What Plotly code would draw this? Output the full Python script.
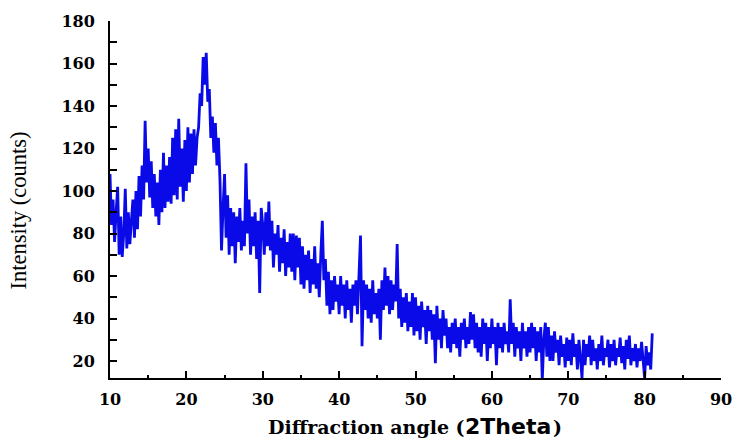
import numpy as np
import plotly.graph_objects as go

# 2-theta scan, 0.2 degree step from 10 to 81
two_theta = np.round(np.arange(10.0, 81.0001, 0.2), 1)

intensity = [
    108, 84, 96, 76, 90,      # 10
    102, 70, 88, 69, 80,      # 11
    101, 73, 90, 75, 86,      # 12
    96, 78, 100, 82, 107,     # 13
    88, 112, 96, 133, 104,    # 14
    120, 97, 114, 92, 108,    # 15
    88, 104, 84, 110, 90,     # 16
    118, 92, 112, 95, 116,    # 17
    94, 125, 98, 129, 96,     # 18
    134, 102, 120, 95, 124,   # 19
    100, 130, 104, 127, 108,  # 20
    129, 112, 125, 130, 146,  # 21
    140, 163, 150, 165, 142,  # 22
    148, 125, 135, 118, 132,  # 23
    112, 125, 105, 72, 92,    # 24
    108, 78, 98, 70, 92,      # 25
    74, 90, 66, 88, 76,       # 26
    92, 72, 86, 74, 113,      # 27
    80, 96, 70, 88, 74,       # 28
    90, 68, 86, 52, 92,       # 29
    84, 70, 90, 74, 95,       # 30
    72, 86, 64, 80, 70,       # 31
    84, 62, 78, 66, 82,       # 32
    60, 76, 64, 80, 62,       # 33
    80, 58, 79, 64, 78,       # 34
    56, 74, 54, 70, 58,       # 35
    72, 52, 68, 56, 74,       # 36
    54, 66, 50, 70, 86,       # 37
    58, 68, 46, 62, 42,       # 38
    58, 44, 60, 48, 56,       # 39
    42, 60, 46, 56, 40,       # 40
    58, 44, 54, 38, 56,       # 41
    46, 58, 42, 60, 79,       # 42
    27, 58, 44, 56, 40,       # 43
    54, 38, 58, 42, 52,       # 44
    40, 54, 30, 58, 44,       # 45
    64, 46, 60, 42, 58,       # 46
    44, 56, 48, 75, 40,       # 47
    54, 36, 50, 38, 52,       # 48
    34, 48, 36, 52, 32,       # 49
    50, 34, 46, 30, 48,       # 50
    36, 44, 28, 46, 34,       # 51
    44, 30, 42, 19, 46,       # 52
    30, 40, 26, 44, 32,       # 53
    40, 26, 36, 24, 38,       # 54
    28, 40, 26, 36, 22,       # 55
    38, 30, 40, 26, 36,       # 56
    28, 43, 30, 42, 26,       # 57
    38, 24, 36, 22, 40,       # 58
    28, 38, 20, 36, 26,       # 59
    40, 28, 36, 18, 38,       # 60
    26, 36, 24, 38, 28,       # 61
    34, 24, 49, 28, 38,       # 62
    22, 36, 26, 34, 20,       # 63
    38, 26, 34, 22, 36,       # 64
    24, 38, 26, 36, 20,       # 65
    34, 24, 36, 11, 30,       # 66
    38, 22, 36, 20, 32,       # 67
    20, 34, 24, 30, 18,       # 68
    32, 22, 28, 17, 31,       # 69
    20, 30, 18, 33, 22,       # 70
    28, 16, 30, 20, 12,       # 71
    30, 18, 28, 22, 32,       # 72
    18, 30, 20, 26, 16,       # 73
    28, 20, 32, 18, 26,       # 74
    22, 30, 17, 28, 20,       # 75
    30, 18, 26, 22, 31,       # 76
    19, 27, 16, 30, 21,       # 77
    32, 18, 26, 20, 28,       # 78
    17, 26, 20, 29, 18,       # 79
    12, 27, 18, 24, 16,       # 80
    33,                       # 81
]

x_ticks = [10, 20, 30, 40, 50, 60, 70, 80, 90]
y_ticks = [20, 40, 60, 80, 100, 120, 140, 160, 180]

n = min(len(two_theta), len(intensity))

fig = go.Figure()
fig.add_trace(go.Scatter(
    x=two_theta[:n], y=intensity[:n], mode="lines",
    line=dict(color="#0A0AE8", width=2.8),
    hoverinfo="skip",
))

tick_font = dict(family="DejaVu Serif", size=16, color="black", weight="bold")
serif_bold = dict(family="DejaVu Serif", size=19, color="black", weight="bold")
sans_bold = dict(family="DejaVu Sans", size=22, color="black", weight="bold")

fig.update_layout(
    width=744, height=440,
    margin=dict(l=110, r=15, t=21, b=62),
    plot_bgcolor="white", paper_bgcolor="white",
    showlegend=False,
    xaxis=dict(
        range=[10, 90], tickvals=x_ticks, ticktext=[str(v) for v in x_ticks],
        ticks="inside", ticklen=7, tickwidth=2, tickcolor="black",
        showline=True, linewidth=2, linecolor="black",
        showgrid=False, zeroline=False, tickfont=tick_font,
        ticklabelstandoff=6,
        minor=dict(ticks="inside", ticklen=3, tickwidth=2, tickcolor="black",
                   tickvals=[15, 25, 35, 45, 55, 65, 75, 85]),
    ),
    yaxis=dict(
        range=[12, 180], tickvals=y_ticks, ticktext=[str(v) for v in y_ticks],
        ticks="inside", ticklen=7, tickwidth=2, tickcolor="black",
        showline=True, linewidth=2, linecolor="black",
        showgrid=False, zeroline=False, tickfont=tick_font,
        ticklabelstandoff=10,
        minor=dict(ticks="inside", ticklen=7, tickwidth=2, tickcolor="black",
                   tickvals=[30, 50, 70, 90, 110, 130, 150, 170]),
    ),
    annotations=[
        dict(
            text="Diffraction angle (",
            xref="paper", yref="paper", x=0.5832, y=-0.137,
            xanchor="right", yanchor="middle", showarrow=False, borderpad=0,
            font=serif_bold,
        ),
        dict(
            text="2Theta",
            xref="paper", yref="paper", x=0.5800, y=-0.137,
            xanchor="left", yanchor="middle", showarrow=False, borderpad=0,
            font=sans_bold,
        ),
        dict(
            text=")",
            xref="paper", yref="paper", x=0.7237, y=-0.137,
            xanchor="left", yanchor="middle", showarrow=False, borderpad=0,
            font=serif_bold,
        ),
        dict(
            text="Intensity (counts)",
            xref="paper", yref="paper", x=-0.150, y=0.47,
            xanchor="center", yanchor="middle", showarrow=False, textangle=-90,
            font=dict(family="Liberation Serif", size=22.5, color="black"),
        ),
    ],
)

fig.write_html(
    "out.html",
    config={"displayModeBar": False},
    post_script="document.body.style.margin='0';document.body.style.padding='0';",
)
